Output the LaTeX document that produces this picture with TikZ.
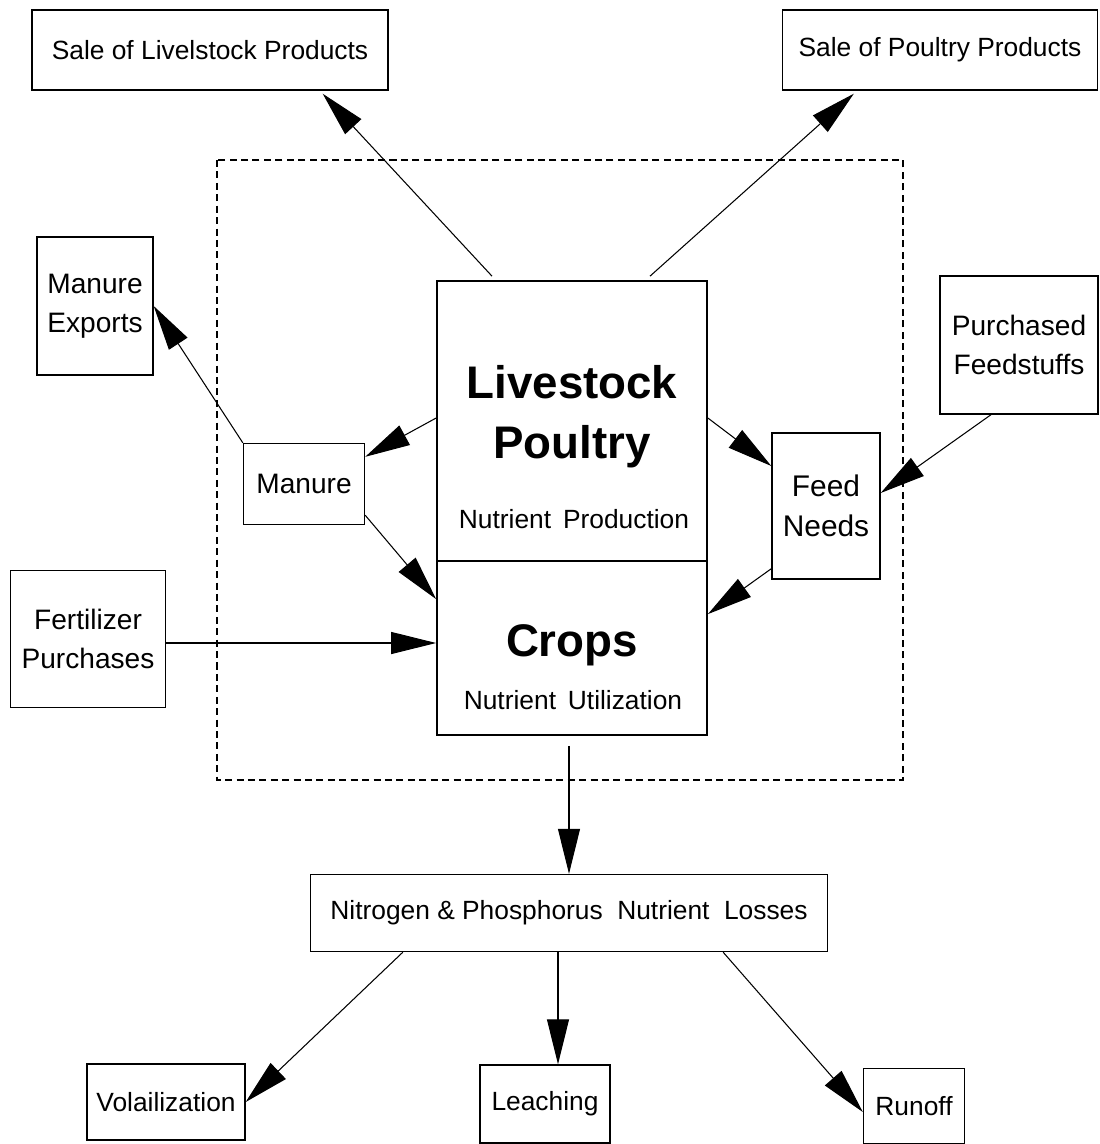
\documentclass[tikz,border=0pt]{standalone}
\usepackage{fontspec}
\setmainfont{Liberation Sans}
\usetikzlibrary{arrows.meta,positioning,calc}

\begin{document}
\begin{tikzpicture}[x=0.02cm, y=-0.02cm,
    box/.style={draw, line width=0.8pt, inner sep=0pt, align=center,
                font=\fontsize{15}{21}\selectfont},
    tallbox/.style={box, font=\fontsize{16}{22}\selectfont},
    flow/.style={-{Triangle[length=9mm,width=4.4mm]}, line width=0.6pt},
    bigtext/.style={font=\fontsize{26}{34}\selectfont\bfseries, align=center},
    subtext/.style={font=\fontsize{15}{18}\selectfont}]
  \useasboundingbox (0,0) rectangle (1100,1144);

  % farm boundary
  \draw[dashed, line width=0.7pt, dash pattern=on 4pt off 2.5pt] (217,160) rectangle (903,780);

  % outside boxes
  \node[box, minimum width=7.12cm, minimum height=1.6cm] (salelive) at (210,50) {Sale of Livelstock Products};
  \node[box, minimum width=6.3cm, minimum height=1.6cm] (salepoul) at (940,50) {Sale of Poultry Products};
  \node[tallbox, minimum width=2.32cm, minimum height=2.76cm] (mexp) at (95,306) {Manure\\Exports};
  \node[tallbox, minimum width=3.16cm, minimum height=2.76cm] (purch) at (1019,345) {Purchased\\Feedstuffs};
  \node[tallbox, minimum width=3.1cm, minimum height=2.74cm] (fert) at (88,639) {Fertilizer\\Purchases};

  % inside boxes
  \node[tallbox, minimum width=2.42cm, minimum height=1.62cm] (manure) at (304,484) {Manure};
  \node[box, font=\fontsize{17}{23}\selectfont, minimum width=2.16cm, minimum height=2.92cm] (feed) at (826,506) {Feed\\Needs};
  \node[draw, line width=1pt, minimum width=5.4cm, minimum height=5.6cm] (lp) at (572,421) {};
  \node[draw, line width=1pt, minimum width=5.4cm, minimum height=3.48cm] (crops) at (572,648) {};
  \node[bigtext] (lptitle) at (572,417) {Livestock\\Poultry};
  \node[subtext] (lpsub) at (574,519) {Nutrient\hspace{0.45em}Production};
  \node[bigtext] (cropstitle) at (572,645) {Crops};
  \node[subtext] (cropssub) at (573,700) {Nutrient\hspace{0.45em}Utilization};

  % losses
  \node[box, font=\fontsize{15}{18}\selectfont, minimum width=10.34cm, minimum height=1.54cm] (loss) at (569,913)
    {Nitrogen \& Phosphorus\hspace{0.55em}Nutrient\hspace{0.55em}Losses};
  \node[box, minimum width=3.16cm, minimum height=1.52cm] (vol) at (166,1102) {Volailization};
  \node[box, minimum width=2.6cm, minimum height=1.56cm] (leach) at (545,1104) {Leaching};
  \node[box, minimum width=2.02cm, minimum height=1.5cm] (runoff) at (914,1106) {Runoff};

  % connector ends
  \coordinate (fertout) at ($(fert.east)+(0,4)$);
  \coordinate (cropsout) at ($(crops.south)+(-3,10)$);
  \coordinate (lossout) at ($(loss.south)+(-11,0)$);

  % flows
  \draw[flow] ($(lp.north)+(-80,-4)$) -- ($(salelive.south east)+(-66,3)$);
  \draw[flow] ($(lp.north)+(78,-4)$) -- ($(salepoul.south west)+(72,3)$);
  \draw[flow] (manure.north west) -- (mexp.east);
  \draw[flow] ($(lp.west)+(0,-3)$) -- ($(manure.north east)+(0,14)$);
  \draw[flow] ($(lp.east)+(0,-3)$) -- ($(feed.west)+(0,-40)$);
  \draw[flow] ($(purch.south)+(-28,0)$) -- ($(feed.east)+(0,-13)$);
  \draw[flow] ($(manure.south east)+(0,-10)$) -- ($(crops.north west)+(0,39)$);
  \draw[flow] ($(feed.south west)+(0,-11)$) -- ($(crops.north east)+(0,54)$);
  \draw[flow] (fertout) -- (fertout -| crops.west);
  \draw[flow] (cropsout) -- (cropsout |- loss.north);
  \draw[flow] ($(loss.south west)+(93,0)$) -- (vol.east);
  \draw[flow] (lossout) -- (lossout |- leach.north);
  \draw[flow] ($(loss.south east)+(-105,0)$) -- ($(runoff.west)+(0,6)$);
\end{tikzpicture}
\end{document}
